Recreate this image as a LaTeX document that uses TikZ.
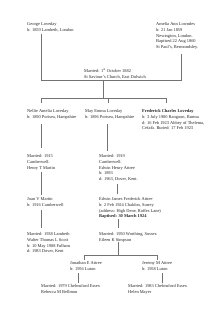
\documentclass[tikz,border=0pt]{standalone}
\usepackage{fontspec}
\setmainfont{Liberation Serif}
\begin{document}
\begin{tikzpicture}[x=1pt,y=-1pt,
  txt/.style={anchor=north west, align=left, inner sep=0pt, font=\fontsize{4.4}{5.7}\selectfont, text=black!85, yshift=3pt},
  ln/.style={draw=black!55, line width=0.35pt}]
\useasboundingbox[fill=white] (0,0) rectangle (220,320);
% people and marriages (positions are first baselines)
\node[txt] (george) at (27,25.5) {George Loveday\\b: 1859 Lambeth, London};
\node[txt] (amelia) at (156,25.5) {Amelia Ann Lowndes\\b: 21 Jan 1859\\Newington, London.\\Baptised 22 Aug 1860\\St Paul's, Bermondsley.};
\node[txt] (m1882) at (84,71.5) {Married: 1\textsuperscript{st} October 1882\\St Saviour's Church, East Dulwich};
\node[txt] (nellie) at (27,112.5) {Nellie Amelia Loveday\\b: 1890 Portsea, Hampshire};
\node[txt] (may) at (85,112.5) {May Emma Loveday\\b: 1896 Portsea, Hampshire};
\node[txt] (fred) at (142,112.5) {\textbf{Frederick Charles Loveday}\\b: 3 July 1900 Rangoon, Burma\\d: 16 Feb 1923 Abbey of Thelema,\\Cefalù. Buried: 17 Feb 1923};
\node[txt] (m1915) at (27,157.5) {Married: 1915\\Camberwell.\\Henry T Martin};
\node[txt] (m1919) at (99,157.5) {Married: 1919\\Camberwell.\\Edwin Henry Attree\\b: 1893\\d: 1963, Dover, Kent.};
\node[txt] (joan) at (27,200.5) {Joan V Martin\\b: 1916 Camberwell};
\node[txt] (edwinj) at (99,200.5) {Edwin James Frederick Attree\\b: 2 Feb 1924 Chaldon, Surrey\\(address: High Dene, Roffes Lane)\\\textbf{Baptised: 30 March 1924}};
\node[txt] (m1938) at (27,235.5) {Married: 1938 Lambeth\\Walter Thomas L Scott\\b: 10 May 1908 Fulham\\d: 1983 Dover, Kent};
\node[txt] (m1950) at (99,235.5) {Married: 1950 Worthing, Sussex\\Eileen K Simpson};
\node[txt] (jonathan) at (70,264.5) {Jonathan E Attree\\b: 1956 Luton};
\node[txt] (jeremy) at (142,264.5) {Jeremy M Attree\\b: 1958 Luton};
\node[txt] (m1979) at (41,287.5) {Married: 1979 Chelmsford Essex\\Rebecca M Bellmon};
\node[txt] (m1983) at (128,287.5) {Married: 1983 Chelmsford Essex\\Helen Mayer};
% junction coordinates
\coordinate (gA) at (41,34);   \coordinate (gB) at (41,80);
\coordinate (aA) at (181,54);  \coordinate (aB) at (181,80);
\coordinate (cA) at (103,80);  \coordinate (cB) at (103,98);
\coordinate (kL) at (41,98);   \coordinate (kM) at (108,98);  \coordinate (kR) at (166,98);
\coordinate (kL2) at (41,103); \coordinate (kM2) at (108,103); \coordinate (kR2) at (166,103);
\coordinate (nA) at (41,124);  \coordinate (nB) at (41,148);
\coordinate (yA) at (107,124); \coordinate (yB) at (107,151);
\coordinate (hA) at (41,172);  \coordinate (hB) at (41,195);
\coordinate (eA) at (117,184); \coordinate (eB) at (117,194);
\coordinate (jA) at (41,210);  \coordinate (jB) at (41,228);
\coordinate (fA) at (118,219); \coordinate (fB) at (118,228);
\coordinate (sA) at (118,242); \coordinate (sB) at (118,255);
\coordinate (tL) at (84,255);  \coordinate (tR) at (157,255);
\coordinate (tL2) at (84,260); \coordinate (tR2) at (157,260);
\coordinate (oA) at (78,273);  \coordinate (oB) at (78,283);
\coordinate (rA) at (162,273); \coordinate (rB) at (162,283);
% connectors
\draw[ln] (gA) -- (gB) -- (aB) -- (aA);
\draw[ln] (cA) -- (cB);
\draw[ln] (kL2) -- (kL) -- (kR) -- (kR2);
\draw[ln] (kM) -- (kM2);
\draw[ln] (nA) -- (nB);
\draw[ln] (yA) -- (yB);
\draw[ln] (hA) -- (hB);
\draw[ln] (eA) -- (eB);
\draw[ln] (jA) -- (jB);
\draw[ln] (fA) -- (fB);
\draw[ln] (sA) -- (sB);
\draw[ln] (tL2) -- (tL) -- (tR) -- (tR2);
\draw[ln] (oA) -- (oB);
\draw[ln] (rA) -- (rB);
\end{tikzpicture}
\end{document}
